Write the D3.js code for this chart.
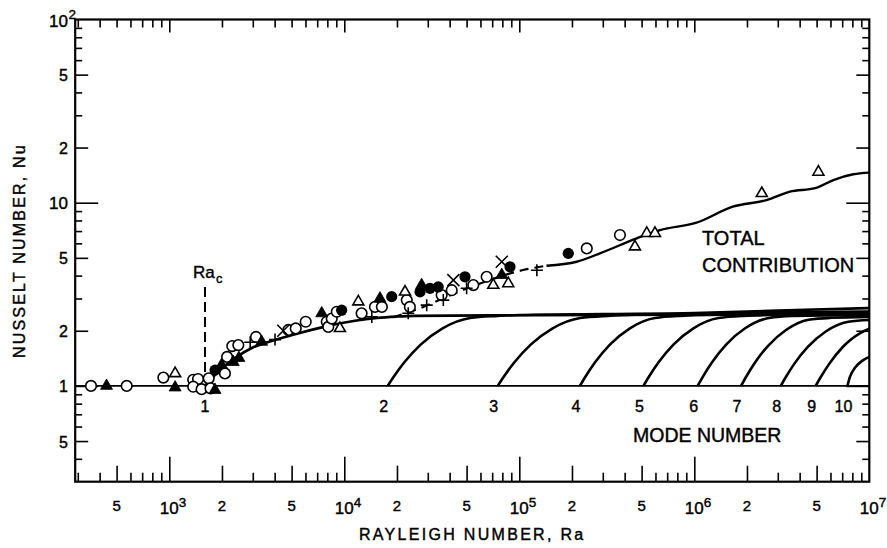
<!DOCTYPE html>
<html>
<head>
<meta charset="utf-8">
<script src="https://cdn.jsdelivr.net/npm/d3@7"></script>
<style>
  body { margin: 0; background: #fff; }
  svg { display: block; }
  text { font-family: "Liberation Sans", Arial, Helvetica, sans-serif; fill: #000; stroke: #000; stroke-width: 0.4px; }
</style>
</head>
<body>
<svg id="chart" width="887" height="548"></svg>
<script>
// ---- axes ----
const raDomain = [290, 1e7];
const nuDomain = [0.3, 100];
const xLabelValues = [500, 1e3, 2e3, 5e3, 1e4, 2e4, 5e4, 1e5, 2e5, 5e5, 1e6, 2e6, 5e6, 1e7];
const xLabelTexts = [["5"], ["10", "3"], ["2"], ["5"], ["10", "4"], ["2"], ["5"], ["10", "5"], ["2"], ["5"], ["10", "6"], ["2"], ["5"], ["10", "7"]];
const yLabelValues = [100, 50, 20, 10, 5, 2, 1, 0.5];
const yLabelTexts = [["10", "2"], ["5"], ["2"], ["10"], ["5"], ["2"], ["1"], ["5"]];

// ---- measurements (Rayleigh number, Nusselt number) ----
const openCircles = [[357,1.0],[571,1.0],[925,1.11],[1370,1.08],[1460,1.09],[1370,0.99],[1530,0.96],[1680,1.10],[1720,0.97],[2080,1.17],[2140,1.44],[2290,1.65],[2480,1.67],[3130,1.85],[4790,2.02],[5280,2.06],[6020,2.24],[7940,2.24],[8100,2.10],[8480,2.33],[9060,2.54],[12560,2.49],[14970,2.70],[16400,2.70],[22750,2.94],[23700,2.70],[36000,3.13],[41100,3.33],[54600,3.55],[65100,3.94],[2.43e5,5.63],[3.76e5,6.66]];
const filledCircles = [[1826,1.22],[9660,2.59],[18660,3.07],[27100,3.26],[30900,3.41],[34400,3.47],[48930,3.94],[88500,4.47],[1.905e5,5.29]];
const openTriangles = [[1080,1.17],[9440,2.06],[12030,2.88],[22230,3.26],[71000,3.55],[86500,3.62],[4.58e5,5.75],[5.35e5,6.81],[5.96e5,6.81],[2.43e6,11.25],[5.12e6,14.7]];
const filledTriangles = [[438,1.0],[1080,0.98],[1825,0.95],[1990,1.30],[2320,1.35],[2500,1.42],[3370,1.74],[7430,2.49],[15990,3.0],[27660,3.55],[79400,4.03]];
const crosses = [[4480,2.0],[42000,3.78],[79400,4.76]];
const pluses = [[2900,1.73],[4020,1.79],[14360,2.38],[23200,2.49],[29580,2.76],[36800,2.94],[50000,3.41],[1.26e5,4.28]];

// ---- computed curves ----
const criticalRa = 1600;
const criticalMarker = [[1600, 1.19], [1600, 3.47]];
const conductionLine = [[290, 1], [1e7, 1]];
const modeNames = ["1","2","3","4","5","6","7","8","9","10"];
const modeStarts = [1600, 17700, 75300, 2.22e5, 5.12e5, 1.045e6, 1.85e6, 3.12e6, 4.94e6, 7.5e6];
const modeCurves = [
  [[1600,1.0],[1750,1.1],[2000,1.25],[2400,1.43],[3000,1.62],[4000,1.78],[5500,1.94],[8300,2.14],[11500,2.27],[15400,2.35],[20000,2.39],[25000,2.41],[1e5,2.43],[1e6,2.45],[1e7,2.45]],
  [[17700,1.0],[19030,1.111],[21980,1.342],[27310,1.681],[36460,2.063],[52400,2.347],[75200,2.41],[1e5,2.44],[3e5,2.47],[1e6,2.5],[3e6,2.58],[1e7,2.66]],
  [[75300,1.0],[80950,1.111],[93530,1.342],[116200,1.681],[155100,2.063],[222900,2.347],[320000,2.41],[1e6,2.48],[3e6,2.52],[1e7,2.55]],
  [[222000,1.0],[237100,1.111],[270400,1.342],[329400,1.681],[428700,2.063],[595600,2.347],[827600,2.41],[2e6,2.46],[1e7,2.5]],
  [[512000,1.0],[546800,1.111],[623600,1.342],[759800,1.681],[988700,2.063],[1373700,2.347],[1908700,2.41],[4e6,2.45],[1e7,2.47]],
  [[1045000,1.0],[1112000,1.111],[1260000,1.342],[1520000,1.681],[1952000,2.063],[2667000,2.347],[3646000,2.41],[1e7,2.44]],
  [[1850000,1.0],[1963000,1.108],[2209000,1.331],[2640000,1.656],[3343000,2.018],[4497000,2.294],[6048000,2.353],[1e7,2.38]],
  [[3120000,1.0],[3310000,1.104],[3725000,1.319],[4452000,1.631],[5638000,1.981],[7585000,2.238],[1e7,2.29]],
  [[4940000,1.0],[5240000,1.104],[5900000,1.319],[7050000,1.631],[8930000,1.95],[1e7,2.05]],
  [[7500000,1.0],[7750000,1.12],[8300000,1.26],[9100000,1.37],[1e7,1.44]]
];
const totalDashed = [[19000,2.37],[25000,2.58],[50000,3.4],[1.05e5,4.29],[1.43e5,4.53]];
const totalSolid = [[1.43e5,4.53],[2.13e5,4.76],[2.89e5,5.29],[4.69e5,6.39],[6.37e5,7.09],[1.03e6,7.78],[1.66e6,9.51],[2.59e6,10.34],[3.52e6,11.5],[4.9e6,12.0],[6.23e6,13.3],[8.1e6,14.3],[1e7,14.6]];

// ---- drawing ----
const svg = d3.select("#chart");
const x = d3.scaleLog().domain(raDomain).range([75.2, 869.3]);
const y = d3.scaleLog().domain(nuDomain).range([481.7, 19.5]);

function decadeTicks(domain) {
  const out = { major: [], mid: [], minor: [] };
  for (let e = -2; e <= 8; e++) {
    for (let m = 1; m <= 9; m++) {
      const v = +(m * Math.pow(10, e)).toPrecision(6);
      if (v <= domain[0] * 1.0001 || v >= domain[1] * 0.9999) continue;
      if (m === 1) out.major.push(v);
      else if (m === 2 || m === 5) out.mid.push(v);
      else out.minor.push(v);
    }
  }
  return out;
}

function tickGroup(axisFn, scale, vals, len, tx, ty) {
  svg.append("g")
    .attr("transform", `translate(${tx},${ty})`)
    .call(axisFn(scale).tickValues(vals).tickSizeInner(-len).tickSizeOuter(0).tickFormat(""))
    .call(g => g.select(".domain").remove())
    .call(g => g.selectAll("text").remove())
    .selectAll("line").attr("stroke", "#000").attr("stroke-width", 1.6);
}

const xt = decadeTicks(raDomain);
const yt = decadeTicks(nuDomain);
const [xL, xR] = x.range();
const [yB, yT] = y.range();

tickGroup(d3.axisBottom, x, xt.major, 25, 0, yB);
tickGroup(d3.axisBottom, x, xt.mid, 16, 0, yB);
tickGroup(d3.axisBottom, x, xt.minor, 9, 0, yB);
tickGroup(d3.axisTop, x, xt.major, 13, 0, yT);
tickGroup(d3.axisTop, x, xt.mid, 8, 0, yT);
tickGroup(d3.axisTop, x, xt.minor, 8, 0, yT);
tickGroup(d3.axisLeft, y, yt.major, 23, xL, 0);
tickGroup(d3.axisLeft, y, yt.mid, 13, xL, 0);
tickGroup(d3.axisLeft, y, yt.minor, 7, xL, 0);
tickGroup(d3.axisRight, y, yt.major, 23, xR, 0);
tickGroup(d3.axisRight, y, yt.mid, 13, xR, 0);
tickGroup(d3.axisRight, y, yt.minor, 7, xR, 0);

svg.append("rect")
  .attr("x", xL).attr("y", yT).attr("width", xR - xL).attr("height", yB - yT)
  .attr("fill", "none").attr("stroke", "#000").attr("stroke-width", 2.2);

// tick labels
xLabelValues.forEach((v, i) => {
  const t = xLabelTexts[i];
  const px = x(v);
  if (t.length === 1) {
    svg.append("text").attr("x", px).attr("y", 511).attr("text-anchor", "middle")
      .attr("font-size", 15).text(t[0]);
  } else {
    svg.append("text").attr("x", px).attr("y", 514).attr("text-anchor", "middle")
      .attr("font-size", 17).text(t[0]);
    svg.append("text").attr("x", px + 9.5).attr("y", 507).attr("text-anchor", "start")
      .attr("font-size", 13.5).text(t[1]);
  }
});
yLabelValues.forEach((v, i) => {
  const t = yLabelTexts[i];
  const py = y(v);
  if (t.length === 1) {
    svg.append("text").attr("x", 68).attr("y", py + 6.5).attr("text-anchor", "end")
      .attr("font-size", t[0].length > 1 ? 17 : 16).text(t[0]);
  } else {
    svg.append("text").attr("x", 68).attr("y", py + 7).attr("text-anchor", "end")
      .attr("font-size", 17).text(t[0]);
    svg.append("text").attr("x", 68.5).attr("y", py - 1).attr("text-anchor", "start")
      .attr("font-size", 13.5).text(t[1]);
  }
});

// axis titles
svg.append("text").attr("x", (xL + xR) / 2).attr("y", 540).attr("text-anchor", "middle")
  .attr("font-size", 16).attr("letter-spacing", 2.3).text("RAYLEIGH NUMBER, Ra");
svg.append("text").attr("transform", `translate(25,${(yT + yB) / 2}) rotate(-90)`)
  .attr("text-anchor", "middle").attr("font-size", 16).attr("letter-spacing", 2.2)
  .text("NUSSELT NUMBER, Nu");

// curves
const line = d3.line().x(d => x(d[0])).y(d => y(d[1])).curve(d3.curveMonotoneX);
const plot = svg.append("g");

plot.append("path").datum(conductionLine).attr("d", line)
  .attr("fill", "none").attr("stroke", "#000").attr("stroke-width", 1.6);

modeCurves.forEach(c => {
  plot.append("path").datum(c).attr("d", line)
    .attr("fill", "none").attr("stroke", "#000").attr("stroke-width", 2.6);
});

plot.append("path").datum(totalDashed).attr("d", line)
  .attr("fill", "none").attr("stroke", "#000").attr("stroke-width", 2.2).attr("stroke-dasharray", "9,6");
plot.append("path").datum(totalSolid).attr("d", line)
  .attr("fill", "none").attr("stroke", "#000").attr("stroke-width", 2.4);

plot.append("path").datum(criticalMarker).attr("d", d3.line().x(d => x(d[0])).y(d => y(d[1])))
  .attr("fill", "none").attr("stroke", "#000").attr("stroke-width", 2).attr("stroke-dasharray", "10,5");

// markers
const mk = svg.append("g");
mk.selectAll(".oc").data(openCircles).join("circle")
  .attr("cx", d => x(d[0])).attr("cy", d => y(d[1])).attr("r", 5.3)
  .attr("fill", "#fff").attr("stroke", "#000").attr("stroke-width", 1.6);
mk.selectAll(".fc").data(filledCircles).join("circle")
  .attr("cx", d => x(d[0])).attr("cy", d => y(d[1])).attr("r", 5.6)
  .attr("fill", "#000");
const tri = d3.symbol().type(d3.symbolTriangle).size(52);
mk.selectAll(".ot").data(openTriangles).join("path")
  .attr("transform", d => `translate(${x(d[0])},${y(d[1])})`).attr("d", tri)
  .attr("fill", "#fff").attr("stroke", "#000").attr("stroke-width", 1.6);
mk.selectAll(".ft").data(filledTriangles).join("path")
  .attr("transform", d => `translate(${x(d[0])},${y(d[1])})`).attr("d", d3.symbol().type(d3.symbolTriangle).size(62))
  .attr("fill", "#000").attr("stroke", "#000").attr("stroke-width", 0.8);
mk.selectAll(".cx").data(crosses).join("path")
  .attr("transform", d => `translate(${x(d[0])},${y(d[1])})`)
  .attr("d", "M-6,-6L6,6M-6,6L6,-6")
  .attr("stroke", "#000").attr("stroke-width", 1.6).attr("fill", "none");
mk.selectAll(".pl").data(pluses).join("path")
  .attr("transform", d => `translate(${x(d[0])},${y(d[1])})`)
  .attr("d", "M-6,0L6,0M0,-6L0,6")
  .attr("stroke", "#000").attr("stroke-width", 1.6).attr("fill", "none");

// annotations
const rcx = x(criticalRa);
svg.append("text").attr("x", rcx - 12).attr("y", 278).attr("font-size", 17).text("Ra");
svg.append("text").attr("x", rcx + 11).attr("y", 283).attr("font-size", 13).text("c");

modeNames.forEach((n, i) => {
  const px = i === 0 ? x(modeStarts[i]) : x(modeStarts[i]) - 4;
  svg.append("text").attr("x", px).attr("y", 412).attr("text-anchor", "middle")
    .attr("font-size", 16).text(n);
});

svg.append("text").attr("x", 633).attr("y", 442).attr("font-size", 19.5).text("MODE NUMBER");
svg.append("text").attr("x", 702).attr("y", 245).attr("font-size", 20).text("TOTAL");
svg.append("text").attr("x", 702).attr("y", 271.5).attr("font-size", 20).text("CONTRIBUTION");
</script>
</body>
</html>
